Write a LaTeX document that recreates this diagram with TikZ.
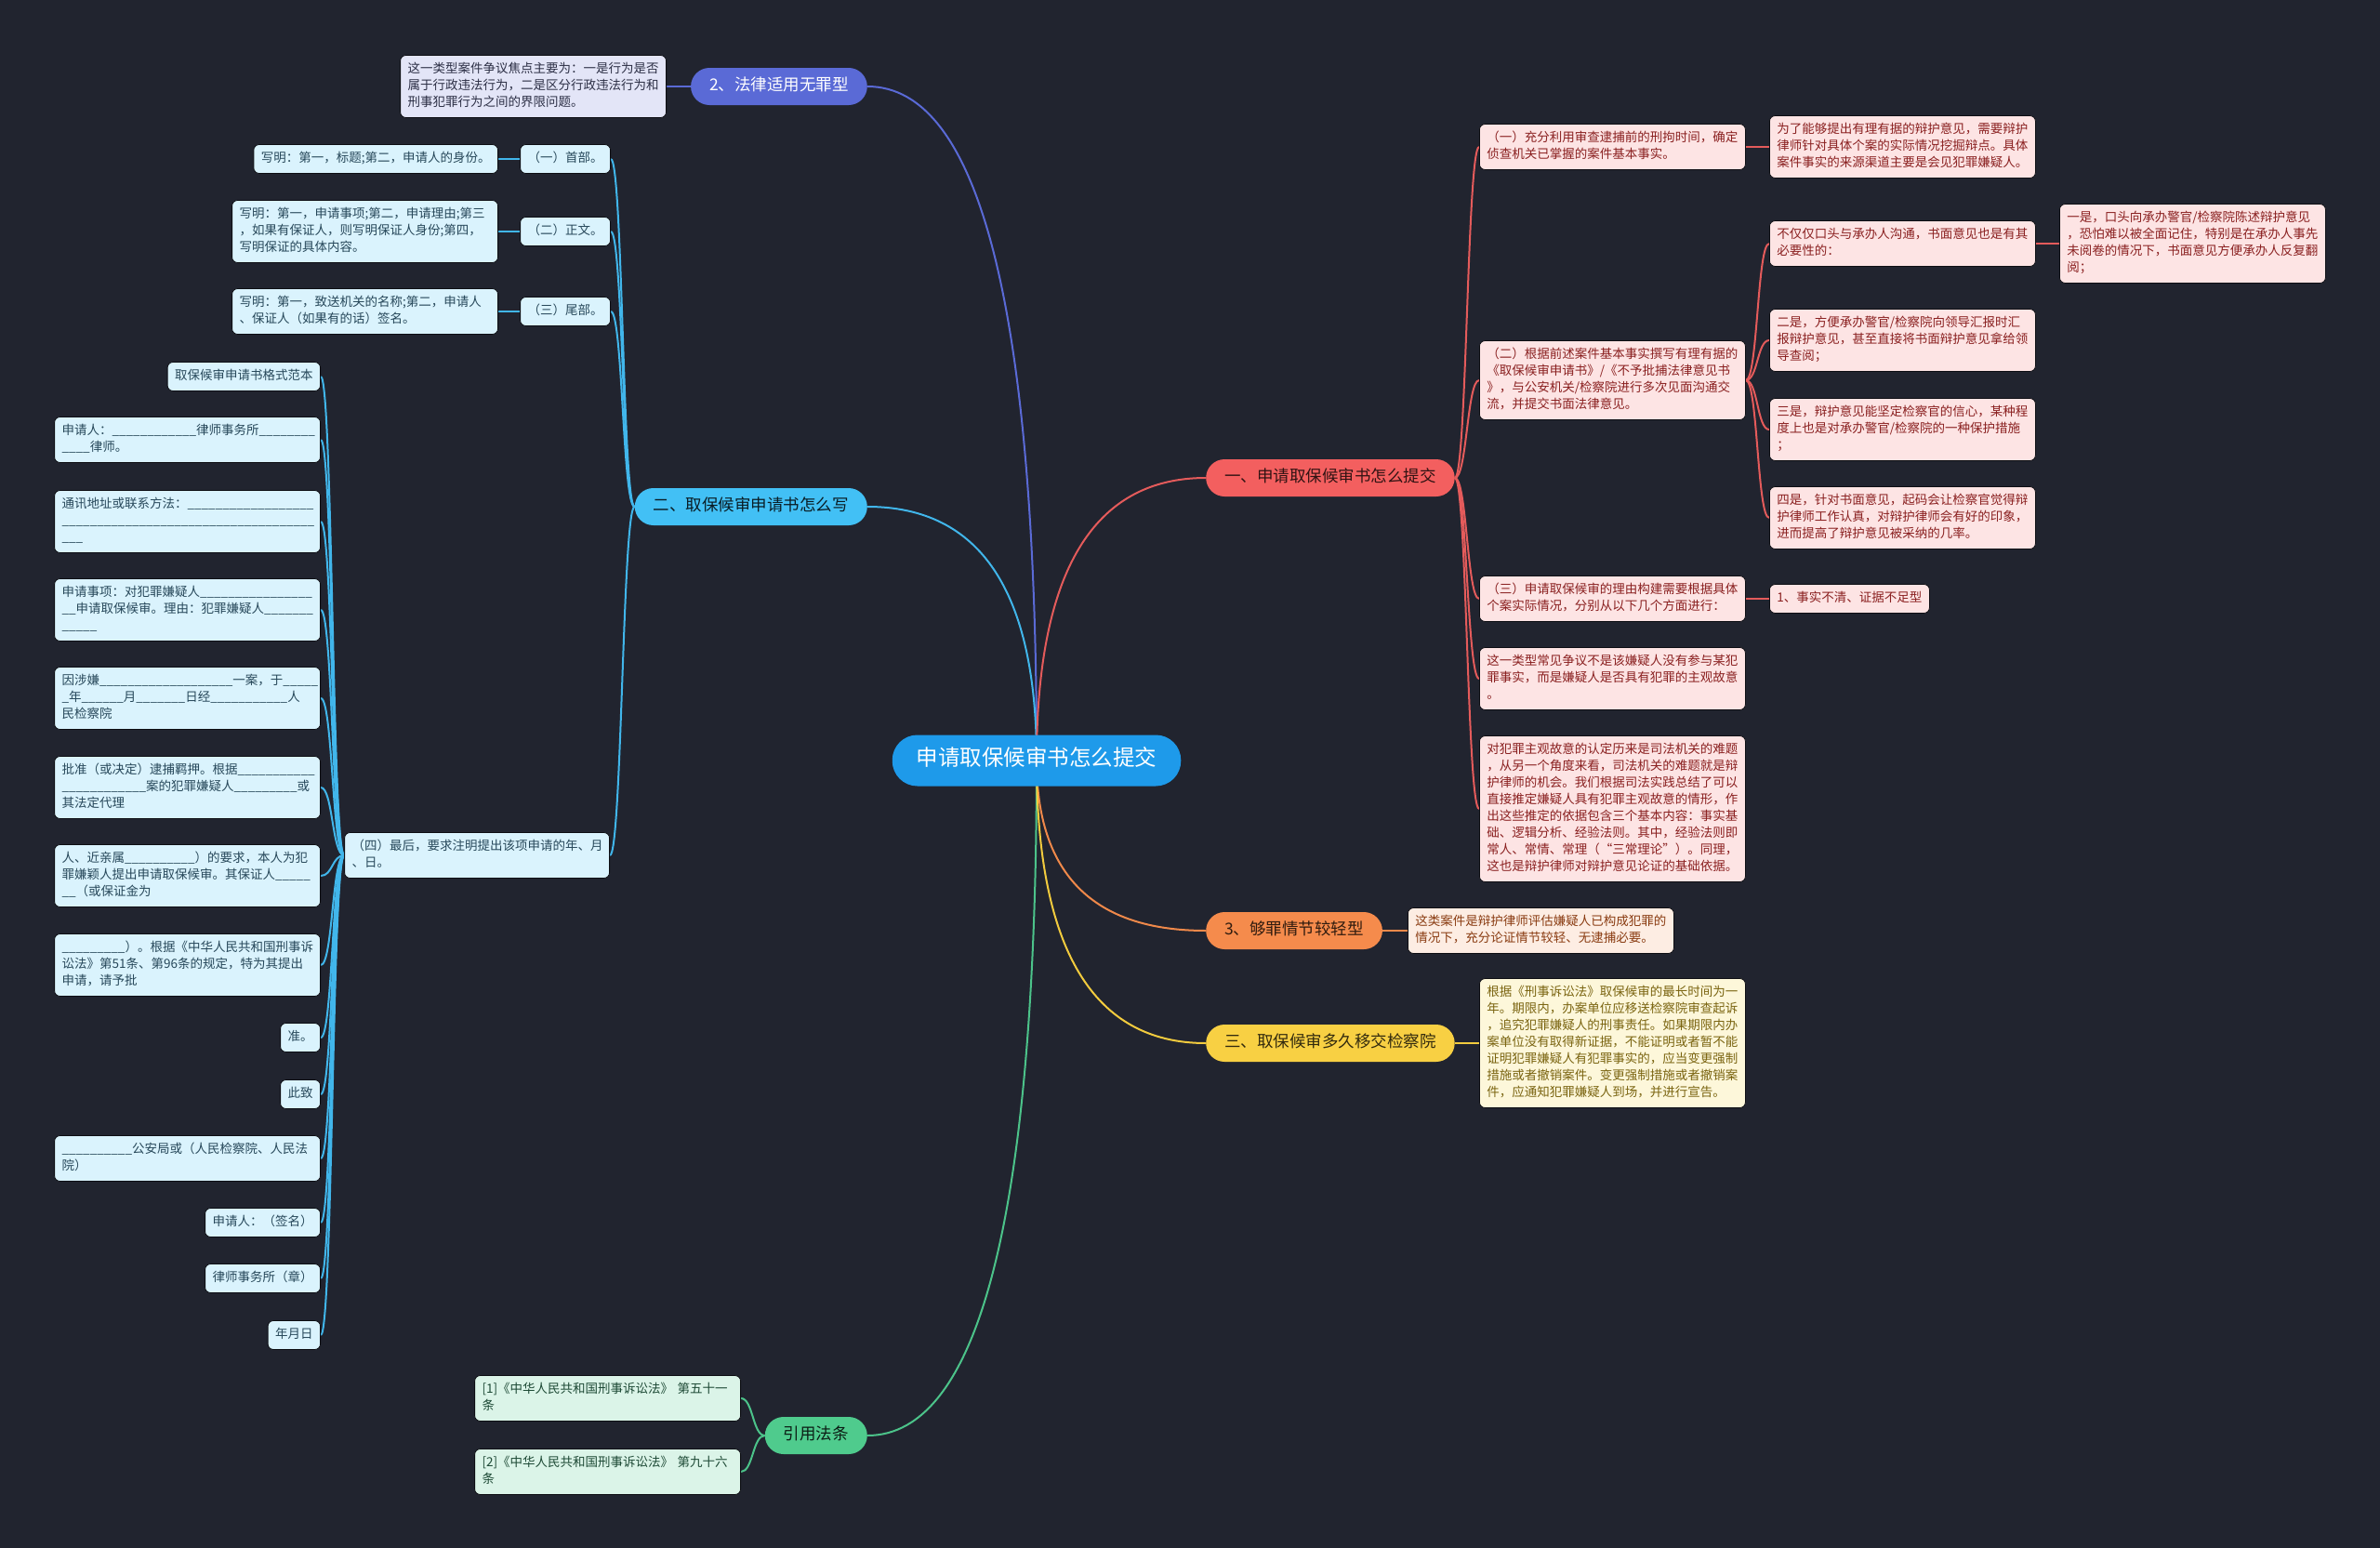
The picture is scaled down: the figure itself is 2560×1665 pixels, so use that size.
\documentclass[tikz,border=0pt]{standalone}
\usepackage{fontspec}
\setmainfont{Noto Sans CJK SC}
\usetikzlibrary{calc}
\pgfdeclarelayer{bgl}
\pgfdeclarelayer{edges}
\pgfsetlayers{bgl,edges,main}
\ExplSyntaxOn
\cs_new:Npn \blk #1 {\prg_replicate:nn {#1} {\textunderscore}}
\ExplSyntaxOff
\definecolor{bgc}{HTML}{21242F}
\definecolor{cenc}{HTML}{1E9AEA}
\definecolor{indc}{HTML}{5A6AD6}
\definecolor{lbc}{HTML}{42C0F5}
\definecolor{lbe}{HTML}{41B6EB}
\definecolor{rdc}{HTML}{F35F5F}
\definecolor{rde}{HTML}{E45B5B}
\definecolor{orc}{HTML}{F58B4C}
\definecolor{ore}{HTML}{F0894A}
\definecolor{ylc}{HTML}{F8D043}
\definecolor{yle}{HTML}{F2CB3E}
\definecolor{gnc}{HTML}{4FCB8D}
\definecolor{gne}{HTML}{4CC38A}
\definecolor{lbfill}{HTML}{DAF3FD}
\definecolor{lbtext}{HTML}{27485A}
\definecolor{rdfill}{HTML}{FDE4E4}
\definecolor{rdtext}{HTML}{8A2020}
\definecolor{orfill}{HTML}{FDEDE3}
\definecolor{ortext}{HTML}{8A3C12}
\definecolor{ylfill}{HTML}{FDF7DA}
\definecolor{yltext}{HTML}{7A6410}
\definecolor{gnfill}{HTML}{DBF4E8}
\definecolor{gntext}{HTML}{1E4A36}
\definecolor{lvfill}{HTML}{E3E5F7}
\definecolor{lvtext}{HTML}{2C2F45}
\newcommand\mmC[3]{\draw[#1] (#2) .. controls ($(#2)!2/3!(#2 |- #3)$) and ($(#3)!2/3!(#2 |- #3)$) .. (#3);}
\newcommand\mmR[3]{\draw[#1] (#2.east) .. controls +(13,0) and +(-13,0) .. (#3.west);}
\newcommand\mmL[3]{\draw[#1] (#2.west) .. controls +(-13,0) and +(13,0) .. (#3.east);}
\begin{document}
\begin{tikzpicture}[x=1pt,y=-1pt,
  box/.style={rounded corners=6pt, inner xsep=8pt, inner ysep=6.5pt, align=left,
    draw=black!60!bgc, line width=0.8pt,
    font=\fontsize{13.5}{18}\selectfont,
    execute at begin node=\strut, execute at end node=\strut},
  bbox/.style={box, fill=lbfill, text=lbtext},
  rbox/.style={box, fill=rdfill, text=rdtext},
  obox/.style={box, fill=orfill, text=ortext},
  ybox/.style={box, fill=ylfill, text=yltext},
  gbox/.style={box, fill=gnfill, text=gntext},
  vbox/.style={box, fill=lvfill, text=lvtext},
  wide/.style={text width=270pt},
  lvl/.style={rounded corners=20pt, inner xsep=20pt, inner ysep=9pt,
    font=\fontsize{17.5}{22}\selectfont, execute at begin node=\strut},
  cen/.style={rounded corners=27pt, inner xsep=26pt, inner ysep=13pt, fill=cenc, text=white,
    font=\fontsize{23.5}{29}\selectfont, execute at begin node=\strut},
  ed/.style={line width=2pt},
]
\begin{pgfonlayer}{bgl}
\fill[bgc] (0,0) rectangle (2560,1665);
\end{pgfonlayer}
\useasboundingbox (0,0) rectangle (2560,1665);

% center
\node[cen] (c) at (1115,818) {申请取保候审书怎么提交};

% level 1
\node[lvl, fill=indc, text=white, anchor=east] (bI) at (933,93) {2、法律适用无罪型};
\node[lvl, fill=lbc, text=black!85!lbc, anchor=east] (bA) at (933,545) {二、取保候审申请书怎么写};
\node[lvl, fill=gnc, text=black!85!gnc, anchor=east] (bG) at (933,1544) {引用法条};
\node[lvl, fill=rdc, text=black!80!rdc, anchor=west] (bR) at (1297,514) {一、申请取保候审书怎么提交};
\node[lvl, fill=orc, text=black!80!orc, anchor=west] (bO) at (1297,1001) {3、够罪情节较轻型};
\node[lvl, fill=ylc, text=black!80!ylc, anchor=west] (bY) at (1297,1122) {三、取保候审多久移交检察院};

% indigo branch
\node[vbox, wide, anchor=east] (v1) at (717,93) {这一类型案件争议焦点主要为：一是行为是否\\属于行政违法行为，二是区分行政违法行为和\\刑事犯罪行为之间的界限问题。};

% blue branch
\node[bbox, anchor=east] (a1) at (657,171) {（一）首部。};
\node[bbox, anchor=east] (a1x) at (536,171) {写明：第一，标题;第二，申请人的身份。};
\node[bbox, anchor=east] (a2) at (657,249) {（二）正文。};
\node[bbox, wide, anchor=east] (a2x) at (536,249) {写明：第一，申请事项;第二，申请理由;第三\\，如果有保证人，则写明保证人身份;第四，\\写明保证的具体内容。};
\node[bbox, anchor=east] (a3) at (657,335) {（三）尾部。};
\node[bbox, wide, anchor=east] (a3x) at (536,335) {写明：第一，致送机关的名称;第二，申请人\\、保证人（如果有的话）签名。};
\node[bbox, text width=269pt, anchor=east] (a4) at (656,920) {（四）最后，要求注明提出该项申请的年、月\\、日。};

\node[bbox, anchor=east] (d1) at (345,405) {取保候审申请书格式范本};
\node[bbox, wide, anchor=east] (d2) at (345,473) {申请人：\blk{12}律师事务所\blk{8}\\\blk{4}律师。};
\node[bbox, wide, anchor=east] (d3) at (345,561) {通讯地址或联系方法：\blk{18}\\\blk{36}\\\blk{3}};
\node[bbox, wide, anchor=east] (d4) at (345,656) {申请事项：对犯罪嫌疑人\blk{16}\\\blk{2}申请取保候审。理由：犯罪嫌疑人\blk{7}\\\blk{5}};
\node[bbox, wide, anchor=east] (d5) at (345,751) {因涉嫌\blk{19}一案，于\blk{5}\\\blk{1}年\blk{6}月\blk{7}日经\blk{11}人\\民检察院};
\node[bbox, wide, anchor=east] (d6) at (345,847) {批准（或决定）逮捕羁押。根据\blk{11}\\\blk{12}案的犯罪嫌疑人\blk{9}或\\其法定代理};
\node[bbox, wide, anchor=east] (d7) at (345,942) {人、近亲属\blk{10}）的要求，本人为犯\\罪嫌颖人提出申请取保候审。其保证人\blk{5}\\\blk{2}（或保证金为};
\node[bbox, wide, anchor=east] (d8) at (345,1038) {\blk{9}）。根据《中华人民共和国刑事诉\\讼法》第51条、第96条的规定，特为其提出\\申请，请予批};
\node[bbox, anchor=east] (d9) at (345,1116) {准。};
\node[bbox, anchor=east] (d10) at (345,1177) {此致};
\node[bbox, wide, anchor=east] (d11) at (345,1246) {\blk{10}公安局或（人民检察院、人民法\\院）};
\node[bbox, anchor=east] (d12) at (345,1315) {申请人：（签名）};
\node[bbox, anchor=east] (d13) at (345,1375) {律师事务所（章）};
\node[bbox, anchor=east] (d14) at (345,1436) {年月日};

% red branch
\node[rbox, wide, anchor=west] (r1) at (1591,158) {（一）充分利用审查逮捕前的刑拘时间，确定\\侦查机关已掌握的案件基本事实。};
\node[rbox, wide, anchor=west] (r1a) at (1903,158) {为了能够提出有理有据的辩护意见，需要辩护\\律师针对具体个案的实际情况挖掘辩点。具体\\案件事实的来源渠道主要是会见犯罪嫌疑人。};
\node[rbox, wide, anchor=west] (r2) at (1591,409) {（二）根据前述案件基本事实撰写有理有据的\\《取保候审申请书》/《不予批捕法律意见书\\》，与公安机关/检察院进行多次见面沟通交\\流，并提交书面法律意见。};
\node[rbox, wide, anchor=west] (r2a) at (1903,262) {不仅仅口头与承办人沟通，书面意见也是有其\\必要性的：};
\node[rbox, wide, anchor=west] (r2a1) at (2215,262) {一是，口头向承办警官/检察院陈述辩护意见\\，恐怕难以被全面记住，特别是在承办人事先\\未阅卷的情况下，书面意见方便承办人反复翻\\阅；};
\node[rbox, wide, anchor=west] (r2b) at (1903,366) {二是，方便承办警官/检察院向领导汇报时汇\\报辩护意见，甚至直接将书面辩护意见拿给领\\导查阅；};
\node[rbox, wide, anchor=west] (r2c) at (1903,462) {三是，辩护意见能坚定检察官的信心，某种程\\度上也是对承办警官/检察院的一种保护措施\\；};
\node[rbox, wide, anchor=west] (r2d) at (1903,557) {四是，针对书面意见，起码会让检察官觉得辩\\护律师工作认真，对辩护律师会有好的印象，\\进而提高了辩护意见被采纳的几率。};
\node[rbox, wide, anchor=west] (r3) at (1591,644) {（三）申请取保候审的理由构建需要根据具体\\个案实际情况，分别从以下几个方面进行：};
\node[rbox, anchor=west] (r3a) at (1903,644) {1、事实不清、证据不足型};
\node[rbox, wide, anchor=west] (r4) at (1591,730) {这一类型常见争议不是该嫌疑人没有参与某犯\\罪事实，而是嫌疑人是否具有犯罪的主观故意\\。};
\node[rbox, wide, anchor=west] (r5) at (1591,870) {对犯罪主观故意的认定历来是司法机关的难题\\，从另一个角度来看，司法机关的难题就是辩\\护律师的机会。我们根据司法实践总结了可以\\直接推定嫌疑人具有犯罪主观故意的情形，作\\出这些推定的依据包含三个基本内容：事实基\\础、逻辑分析、经验法则。其中，经验法则即\\常人、常情、常理（“三常理论”）。同理，\\这也是辩护律师对辩护意见论证的基础依据。};

% orange, yellow
\node[obox, wide, anchor=west] (o1) at (1514,1001) {这类案件是辩护律师评估嫌疑人已构成犯罪的\\情况下，充分论证情节较轻、无逮捕必要。};
\node[ybox, wide, anchor=west] (y1) at (1591,1122) {根据《刑事诉讼法》取保候审的最长时间为一\\年。期限内，办案单位应移送检察院审查起诉\\，追究犯罪嫌疑人的刑事责任。如果期限内办\\案单位没有取得新证据，不能证明或者暂不能\\证明犯罪嫌疑人有犯罪事实的，应当变更强制\\措施或者撤销案件。变更强制措施或者撤销案\\件，应通知犯罪嫌疑人到场，并进行宣告。};

% green
\node[gbox, wide, anchor=east] (g1) at (797,1504) {[1]《中华人民共和国刑事诉讼法》 第五十一\\条};
\node[gbox, wide, anchor=east] (g2) at (797,1583) {[2]《中华人民共和国刑事诉讼法》 第九十六\\条};

\begin{pgfonlayer}{edges}
\mmC{ed, indc}{c.center}{bI.east}
\mmC{ed, lbe}{c.center}{bA.east}
\mmC{ed, gne}{c.center}{bG.east}
\mmC{ed, rde}{c.center}{bR.west}
\mmC{ed, ore}{c.center}{bO.west}
\mmC{ed, yle}{c.center}{bY.west}

\mmL{ed, indc}{bI}{v1}
\foreach \n in {a1,a2,a3,a4} {\mmL{ed, lbe}{bA}{\n}}
\mmL{ed, lbe}{a1}{a1x}
\mmL{ed, lbe}{a2}{a2x}
\mmL{ed, lbe}{a3}{a3x}
\foreach \n in {d1,d2,d3,d4,d5,d6,d7,d8,d9,d10,d11,d12,d13,d14} {\mmL{ed, lbe}{a4}{\n}}
\foreach \n in {r1,r2,r3,r4,r5} {\mmR{ed, rde}{bR}{\n}}
\mmR{ed, rde}{r1}{r1a}
\foreach \n in {r2a,r2b,r2c,r2d} {\mmR{ed, rde}{r2}{\n}}
\mmR{ed, rde}{r2a}{r2a1}
\mmR{ed, rde}{r3}{r3a}
\mmR{ed, ore}{bO}{o1}
\mmR{ed, yle}{bY}{y1}
\mmL{ed, gne}{bG}{g1}
\mmL{ed, gne}{bG}{g2}
\end{pgfonlayer}
\end{tikzpicture}
\end{document}
